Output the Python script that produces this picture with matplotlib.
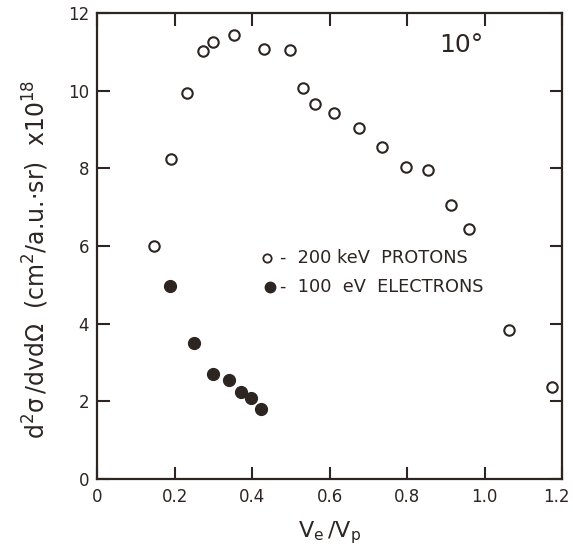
import matplotlib
matplotlib.use("Agg")
import matplotlib.pyplot as plt
import matplotlib.transforms as mtransforms

# 200 keV protons (open circles)
proton_v = [0.145, 0.190, 0.231, 0.272, 0.299, 0.353, 0.431, 0.497, 0.532, 0.561,
            0.610, 0.676, 0.736, 0.798, 0.853, 0.912, 0.960, 1.062, 1.173]
proton_sigma = [6.0, 8.25, 9.95, 11.03, 11.25, 11.44, 11.08, 11.05, 10.07, 9.67,
                9.44, 9.03, 8.55, 8.05, 7.95, 7.05, 6.45, 3.83, 2.37]

# 100 eV electrons (filled circles)
electron_v = [0.188, 0.250, 0.298, 0.341, 0.370, 0.397, 0.422]
electron_sigma = [4.98, 3.50, 2.70, 2.56, 2.25, 2.10, 1.80]

x_ticks = [0, 0.2, 0.4, 0.6, 0.8, 1.0, 1.2]
x_ticklabels = ["0", "0.2", "0.4", "0.6", "0.8", "1.0", "1.2"]
y_ticks = [0, 2, 4, 6, 8, 10, 12]
y_ticklabels = ["0", "2", "4", "6", "8", "10", "12"]

ink = "#2d2521"
plt.rcParams["font.family"] = ["DejaVu Sans"]
plt.rcParams["mathtext.default"] = "regular"

fig = plt.figure(figsize=(5.73, 5.47), dpi=100)
ax = fig.add_axes([0.170, 0.124, 0.811, 0.852])

ax.plot(proton_v, proton_sigma, linestyle="none", marker="o", markersize=7.5,
        markerfacecolor="white", markeredgecolor=ink, markeredgewidth=1.5)
ax.plot(electron_v, electron_sigma, linestyle="none", marker="o", markersize=8.5,
        markerfacecolor=ink, markeredgecolor=ink)

ax.set_xlim(0, 1.2)
ax.set_ylim(0, 12)
ax.set_xticks(x_ticks)
ax.set_xticklabels(x_ticklabels)
ax.set_yticks(y_ticks)
ax.set_yticklabels(y_ticklabels)
ax.tick_params(direction="in", length=9, width=1.5, color=ink, labelcolor=ink,
               labelsize=12, top=True, right=True, pad=6)
for sp in ax.spines.values():
    sp.set_color(ink)
    sp.set_linewidth(1.6)

# pull the last x label in a little so it stays on the canvas
last = ax.get_xticklabels()[-1]
last.set_transform(last.get_transform() +
                   mtransforms.ScaledTranslation(-4 / 72, 0, fig.dpi_scale_trans))

# key drawn inside the axes
ax.plot([0.437], [5.70], linestyle="none", marker="o", markersize=6,
        markerfacecolor="white", markeredgecolor=ink, markeredgewidth=1.3)
ax.plot([0.445], [4.95], linestyle="none", marker="o", markersize=7.5,
        markerfacecolor=ink, markeredgecolor=ink)
ax.text(0.472, 5.70, "-  200 keV  PROTONS", fontsize=12.8, color=ink, va="center")
ax.text(0.472, 4.95, "-  100  eV  ELECTRONS", fontsize=12.8, color=ink, va="center")

ax.text(0.882, 11.18, "10°", fontsize=18, color=ink, ha="left", va="center")

ax.set_xlabel(r"$V_e\,/V_p$", fontsize=16, color=ink, labelpad=10)
fig.text(0.062, 0.525,
         r"$d^2\sigma\,/dvd\Omega$  (cm$^2$/a.u.$\cdot$sr)  x10$^{18}$",
         rotation=90, fontsize=17, color=ink, ha="center", va="center")

fig.savefig("out.png", dpi=100)
